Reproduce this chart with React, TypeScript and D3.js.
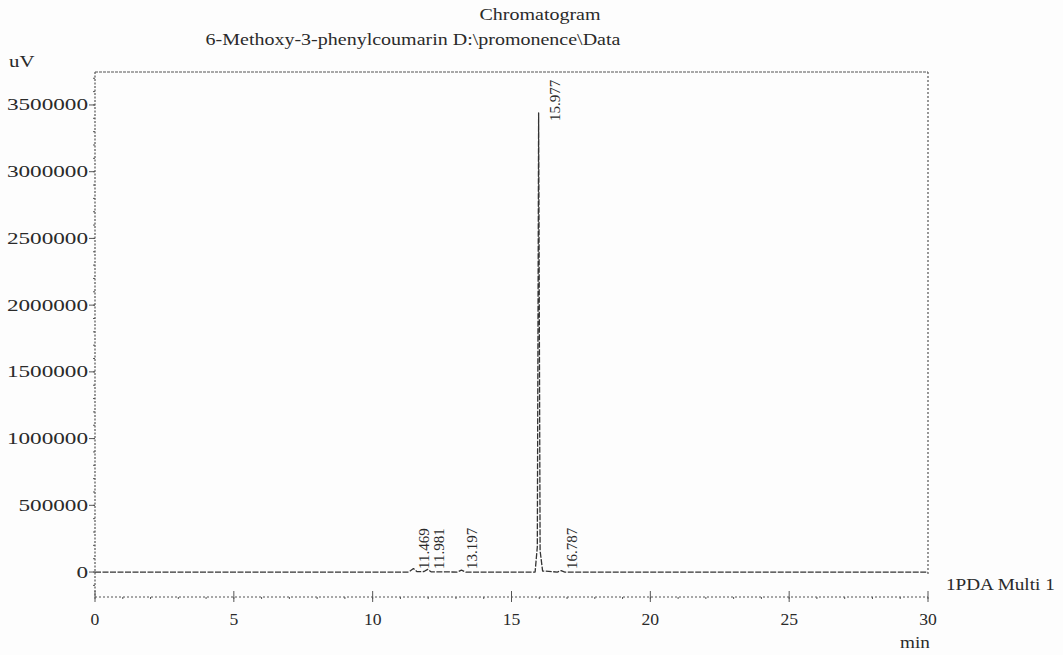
import React from "react";
import * as d3 from "d3";

// ---- data ----
const traceTimes = [0, 11.3, 11.469, 11.6, 11.85, 11.981, 12.1, 13.05, 13.197, 13.35, 15.85, 15.93, 15.977, 16.03, 16.12, 16.65, 16.787, 16.92, 30];
const traceValues = [0, 0, 26000, 3000, 4000, 20000, 2000, 0, 14000, 0, 0, 190000, 3440000, 160000, 8000, 0, 10000, 0, 0];

const peakTimes = [11.469, 11.981, 13.197, 15.977, 16.787];
const peakLabels = ["11.469", "11.981", "13.197", "15.977", "16.787"];
const peakHeights = [26000, 20000, 14000, 3440000, 10000];

const xTicks = [0, 5, 10, 15, 20, 25, 30];
const yTicks = [0, 500000, 1000000, 1500000, 2000000, 2500000, 3000000, 3500000];

const titleText = "Chromatogram";
const subtitleText = "6-Methoxy-3-phenylcoumarin D:\\promonence\\Data";
const yUnit = "uV";
const xUnit = "min";
const seriesName = "1PDA Multi 1";

const FONT = "'Liberation Serif', 'Times New Roman', serif";
const INK = "#2a2a2a";
const LINE = "#555";

export default function App() {
  const W = 1063, H = 655;
  const left = 95, right = 928, top = 72, bottom = 597;
  const x = d3.scaleLinear().domain([0, 30]).range([left, right]);
  const y = d3.scaleLinear().domain([-187000, 3747000]).range([bottom, top]);

  const line = d3
    .line<number>()
    .x((_, i) => x(traceTimes[i]))
    .y((v) => y(v));
  const path = line(traceValues) || "";

  const xMinor = d3.range(0, 30.01, 1);
  const yMinor = d3.range(-100000, 3700001, 100000);

  const hText = (tx: number, ty: number, s: string, anchor: string, size = 16, stretch = 1.25) => (
    <text
      transform={`translate(${tx},${ty}) scale(${stretch},1)`}
      textAnchor={anchor as any}
      fontFamily={FONT}
      fontSize={size}
      fill={INK}
    >
      {s}
    </text>
  );

  return (
    <svg width={W} height={H} style={{ position: "absolute", left: 0, top: 0, background: "#fff" }}>
      <rect x={0} y={0} width={W} height={H} fill="#fdfdfd" />
      {/* titles */}
      {hText(540, 20, titleText, "middle")}
      {hText(413, 45, subtitleText, "middle")}
      {hText(9, 67, yUnit, "start", 16, 1.3)}

      {/* frame */}
      <line x1={left} x2={right} y1={top} y2={top} stroke={LINE} strokeWidth={1.2} strokeDasharray="3 1" />
      <line x1={right} x2={right} y1={top} y2={y(-30000)} stroke={LINE} strokeWidth={1.2} strokeDasharray="2 2" />
      <line x1={left} x2={left} y1={top} y2={bottom} stroke={LINE} strokeWidth={1.2} strokeDasharray="2 1.5" />
      <line x1={left} x2={right} y1={bottom} y2={bottom} stroke={LINE} strokeWidth={1.2} strokeDasharray="2 2" />

      {/* y ticks */}
      {yMinor.map((v) => (
        <line key={"ym" + v} x1={left - 2} x2={left} y1={y(v)} y2={y(v)} stroke={LINE} strokeWidth={1} />
      ))}
      {yTicks.map((v) => (
        <g key={"yt" + v}>
          <line x1={left - 6} x2={left} y1={y(v)} y2={y(v)} stroke={LINE} strokeWidth={1} />
          {hText(left - 7, y(v) + 5.5, String(v), "end", 16, 1.45)}
        </g>
      ))}

      {/* x ticks */}
      {xMinor.map((v) => (
        <line key={"xm" + v} x1={x(v)} x2={x(v)} y1={bottom} y2={bottom + 2} stroke={LINE} strokeWidth={1} />
      ))}
      {xTicks.map((v) => (
        <g key={"xt" + v}>
          <line x1={x(v)} x2={x(v)} y1={bottom - 6} y2={bottom + 5} stroke={LINE} strokeWidth={1} />
          {hText(x(v), bottom + 28, String(v), "middle", 16, 1.1)}
        </g>
      ))}
      {hText(915, 648, xUnit, "middle", 16, 1.2)}

      {/* trace */}
      <path d={path} fill="none" stroke="#333" strokeWidth={1.3} strokeDasharray="6 1.5" strokeLinejoin="round" />

      {/* peak labels */}
      {peakTimes.map((t, i) => {
        const big = peakHeights[i] > 1000000;
        const lx = x(t) + (big ? 21 : 16);
        const ly = big ? y(peakHeights[i]) + 8 : y(0) - 3;
        return (
          <text
            key={"pl" + i}
            transform={`translate(${lx},${ly}) rotate(-90)`}
            fontFamily={FONT}
            fontSize={15}
            fill={INK}
          >
            {peakLabels[i]}
          </text>
        );
      })}

      {hText(946, 590, seriesName, "start", 16, 1.2)}
    </svg>
  );
}
